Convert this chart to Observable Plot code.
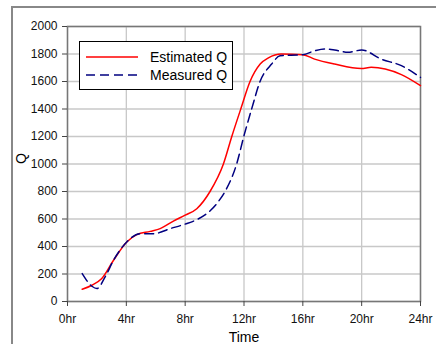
<!DOCTYPE html>
<html><head><meta charset="utf-8">
<script src="https://cdn.jsdelivr.net/npm/d3@7"></script>
<script src="https://cdn.jsdelivr.net/npm/@observablehq/plot@0.6"></script>
<style>
body{margin:0;background:#fff;font-family:"Liberation Sans",Arial,sans-serif;}
#wrap{position:relative;width:436px;height:344px;overflow:hidden;}
#outer{position:absolute;left:11px;top:6px;width:440px;height:400px;border-left:2px solid #888;border-top:2px solid #888;pointer-events:none;}
#legend{position:absolute;left:79px;top:41px;width:152px;height:47px;border:1px solid #000;background:#fff;font-size:14px;}
#legend .row{position:absolute;left:6px;height:18px;display:flex;align-items:center;}
#legend svg{margin-right:12px;}
</style></head>
<body><div id="wrap"><div id="outer"></div></div>
<script>
const estHours = [1,1.66,2.33,3.13,4.03,4.71,5.62,6.3,7.2,8,8.79,9.69,10.6,11.17,11.78,12.41,13.1,13.66,14.54,16,16.8,18.16,19.97,20.65,21.6,22.7,24];
const estQ     = [89,118,167,300,433,486,510,530,585,628,675,800,1000,1200,1400,1600,1727,1772,1800,1795,1763,1727,1695,1703,1691,1650,1570];
const measHours = [1,1.66,2,2.56,3.13,4.03,4.94,5.84,6.98,8,8.79,9.7,10.3,10.71,11.5,12,12.52,13.09,13.88,14.45,16,16.8,17.48,18.16,19.07,20,21.33,22.7,24];
const measQ     = [203,111,94,179,300,433,493,493,530,563,595,660,733,800,1000,1206,1400,1600,1727,1787,1795,1823,1836,1829,1812,1829,1763,1715,1630];
const xTicks = [0,4,8,12,16,20,24];
const yTicks = [0,200,400,600,800,1000,1200,1400,1600,1800,2000];
const seriesNames = ["Estimated Q","Measured Q"];

const est = estHours.map((h,i)=>({h, q: estQ[i]}));
const meas = measHours.map((h,i)=>({h, q: measQ[i]}));

const chart = Plot.plot({
  width: 436, height: 344,
  marginLeft: 67, marginTop: 26, marginRight: 16, marginBottom: 43,
  style: {fontFamily: '"Liberation Sans", Arial, sans-serif', fontSize: "12px", color: "#000", background: "transparent"},
  x: {domain: [0,24], ticks: xTicks, tickFormat: d => d + "hr", label: null},
  y: {domain: [0,2000], ticks: yTicks, tickFormat: d => String(d), label: null},
  marks: [
    Plot.gridX(xTicks, {stroke: "#c8c8c8", strokeOpacity: 1, strokeWidth: 1.3}),
    Plot.gridY(yTicks, {stroke: "#c8c8c8", strokeOpacity: 1, strokeWidth: 1.3}),
    Plot.frame({stroke: "#777", strokeWidth: 1.5}),
    Plot.axisX({ticks: xTicks, tickFormat: d => d + "hr", tickSize: 5, tickPadding: 8, stroke: "#444", fill: "#111", label: null}),
    Plot.axisY({ticks: yTicks, tickFormat: d => String(d), tickSize: 5, tickPadding: 5, stroke: "#444", fill: "#111", label: null}),
    Plot.line(est, {x: "h", y: "q", stroke: "#ff0000", strokeWidth: 1.5, curve: "monotone-x"}),
    Plot.line(meas, {x: "h", y: "q", stroke: "#000080", strokeWidth: 1.5, strokeDasharray: "9,5", curve: "monotone-x"}),
    Plot.text(["Q"], {frameAnchor: "left", dx: -46, rotate: -90, fontSize: 14, fill: "#000"}),
    Plot.text(["Time"], {frameAnchor: "bottom", lineAnchor: "middle", dy: 36, fontSize: 14, fill: "#000"})
  ]
});
const wrap = document.getElementById("wrap");
wrap.insertBefore(chart, wrap.firstChild);

const lg = document.createElement("div");
lg.id = "legend";
const styles = [{stroke:"#ff0000", dash:""},{stroke:"#000080", dash:"9,5"}];
seriesNames.forEach((name,i)=>{
  const row = document.createElement("div");
  row.className = "row";
  row.style.top = (6 + i*18) + "px";
  row.innerHTML = `<svg width="52" height="4"><line x1="0" x2="52" y1="2" y2="2" stroke="${styles[i].stroke}" stroke-width="1.5" stroke-dasharray="${styles[i].dash}"/></svg><span>${name}</span>`;
  lg.appendChild(row);
});
wrap.appendChild(lg);
</script></body></html>
